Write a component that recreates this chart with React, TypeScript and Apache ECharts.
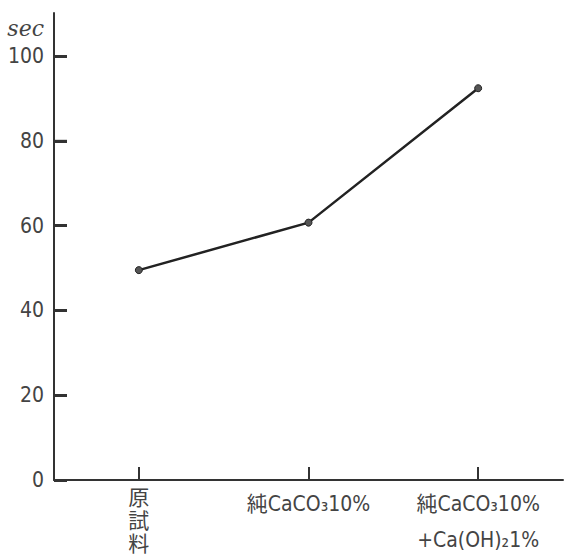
import React, { useEffect, useRef } from "react";
import * as echarts from "echarts";

const categories = ["原試料", "純CaCO₃10%", "純CaCO₃10%\n+Ca(OH)₂1%"];
const values = [49.5, 60.7, 92.4];
const yTicks = [0, 20, 40, 60, 80, 100];
const yName = "sec";

const GRID_LEFT = 54;
const TICK_LEN = 13;

export default function App() {
  const ref = useRef<HTMLDivElement>(null);
  useEffect(() => {
    if (!ref.current) return;
    const chart = echarts.init(ref.current, null, { renderer: "svg" });
    const font = "'Liberation Sans Narrow', 'DejaVu Sans Condensed', 'Noto Sans CJK JP', sans-serif";
    const axisColor = "#333";
    chart.setOption({
      animation: false,
      backgroundColor: "#ffffff",
      grid: [
        { left: GRID_LEFT, right: 5, top: 56, bottom: 79, containLabel: false },
        { left: GRID_LEFT, right: 5, top: 13, height: 43, containLabel: false },
      ],
      xAxis: [
        {
          type: "category",
          gridIndex: 0,
          data: categories,
          boundaryGap: true,
          axisLine: { show: true, lineStyle: { color: axisColor, width: 2 } },
          axisTick: { show: true, inside: true, length: TICK_LEN, alignWithLabel: true, lineStyle: { color: axisColor, width: 2 } },
          axisLabel: {
            color: "#444",
            fontFamily: font,
            fontSize: 21,
            margin: 6,
            interval: 0,
            formatter: (v: string) =>
              v === categories[0]
                ? v.split("").map((c) => `{v|${c}}`).join("\n")
                : v.split("\n").map((l) => `{h|${l}}`).join("\n"),
            rich: {
              v: { fontFamily: font, fontSize: 21, lineHeight: 23, color: "#444" },
              h: { fontFamily: font, fontSize: 21, lineHeight: 36, color: "#444" },
            },
          },
          splitLine: { show: false },
        },
        {
          type: "value",
          gridIndex: 1,
          show: false,
        },
      ],
      yAxis: [
        {
          type: "value",
          gridIndex: 0,
          min: 0,
          max: 100,
          interval: 20,
          axisLine: { show: true, lineStyle: { color: axisColor, width: 2 } },
          axisTick: { show: true, inside: false, length: -TICK_LEN, lineStyle: { color: axisColor, width: 3 } },
          axisLabel: {
            color: "#444",
            fontFamily: font,
            fontSize: 21,
            margin: 10,
          },
          splitLine: { show: false },
        },
        {
          type: "value",
          gridIndex: 1,
          min: 0,
          max: 1,
          name: yName,
          nameLocation: "end",
          nameGap: -26,
          nameTextStyle: {
            color: "#444",
            fontFamily: "'DejaVu Serif', serif",
            fontStyle: "italic",
            fontSize: 22,
            align: "right",
            padding: [0, 10, 0, 0],
          },
          axisLine: { show: true, lineStyle: { color: axisColor, width: 2 } },
          axisTick: { show: false },
          axisLabel: { show: false },
          splitLine: { show: false },
        },
      ],
      series: [
        {
          type: "line",
          xAxisIndex: 0,
          yAxisIndex: 0,
          data: values,
          symbol: "circle",
          symbolSize: 7,
          itemStyle: { color: "#555", borderColor: "#222", borderWidth: 1 },
          lineStyle: { color: "#222", width: 2.5 },
        },
        {
          type: "custom",
          xAxisIndex: 0,
          yAxisIndex: 0,
          silent: true,
          clip: false,
          z: 10,
          data: yTicks.filter((v) => v !== 0).map((v) => [0, v]),
          encode: { x: 0, y: 1 },
          renderItem: (params: any, api: any) => {
            const y = api.coord([0, api.value(1)])[1];
            const x = params.coordSys.x;
            return {
              type: "rect",
              shape: { x: x, y: y - 1, width: TICK_LEN, height: 2 },
              style: { fill: axisColor },
            };
          },
        },
      ],
    });
    return () => chart.dispose();
  }, []);
  return <div ref={ref} style={{ position: "fixed", left: 0, top: 0, width: 568, height: 559 }} />;
}
